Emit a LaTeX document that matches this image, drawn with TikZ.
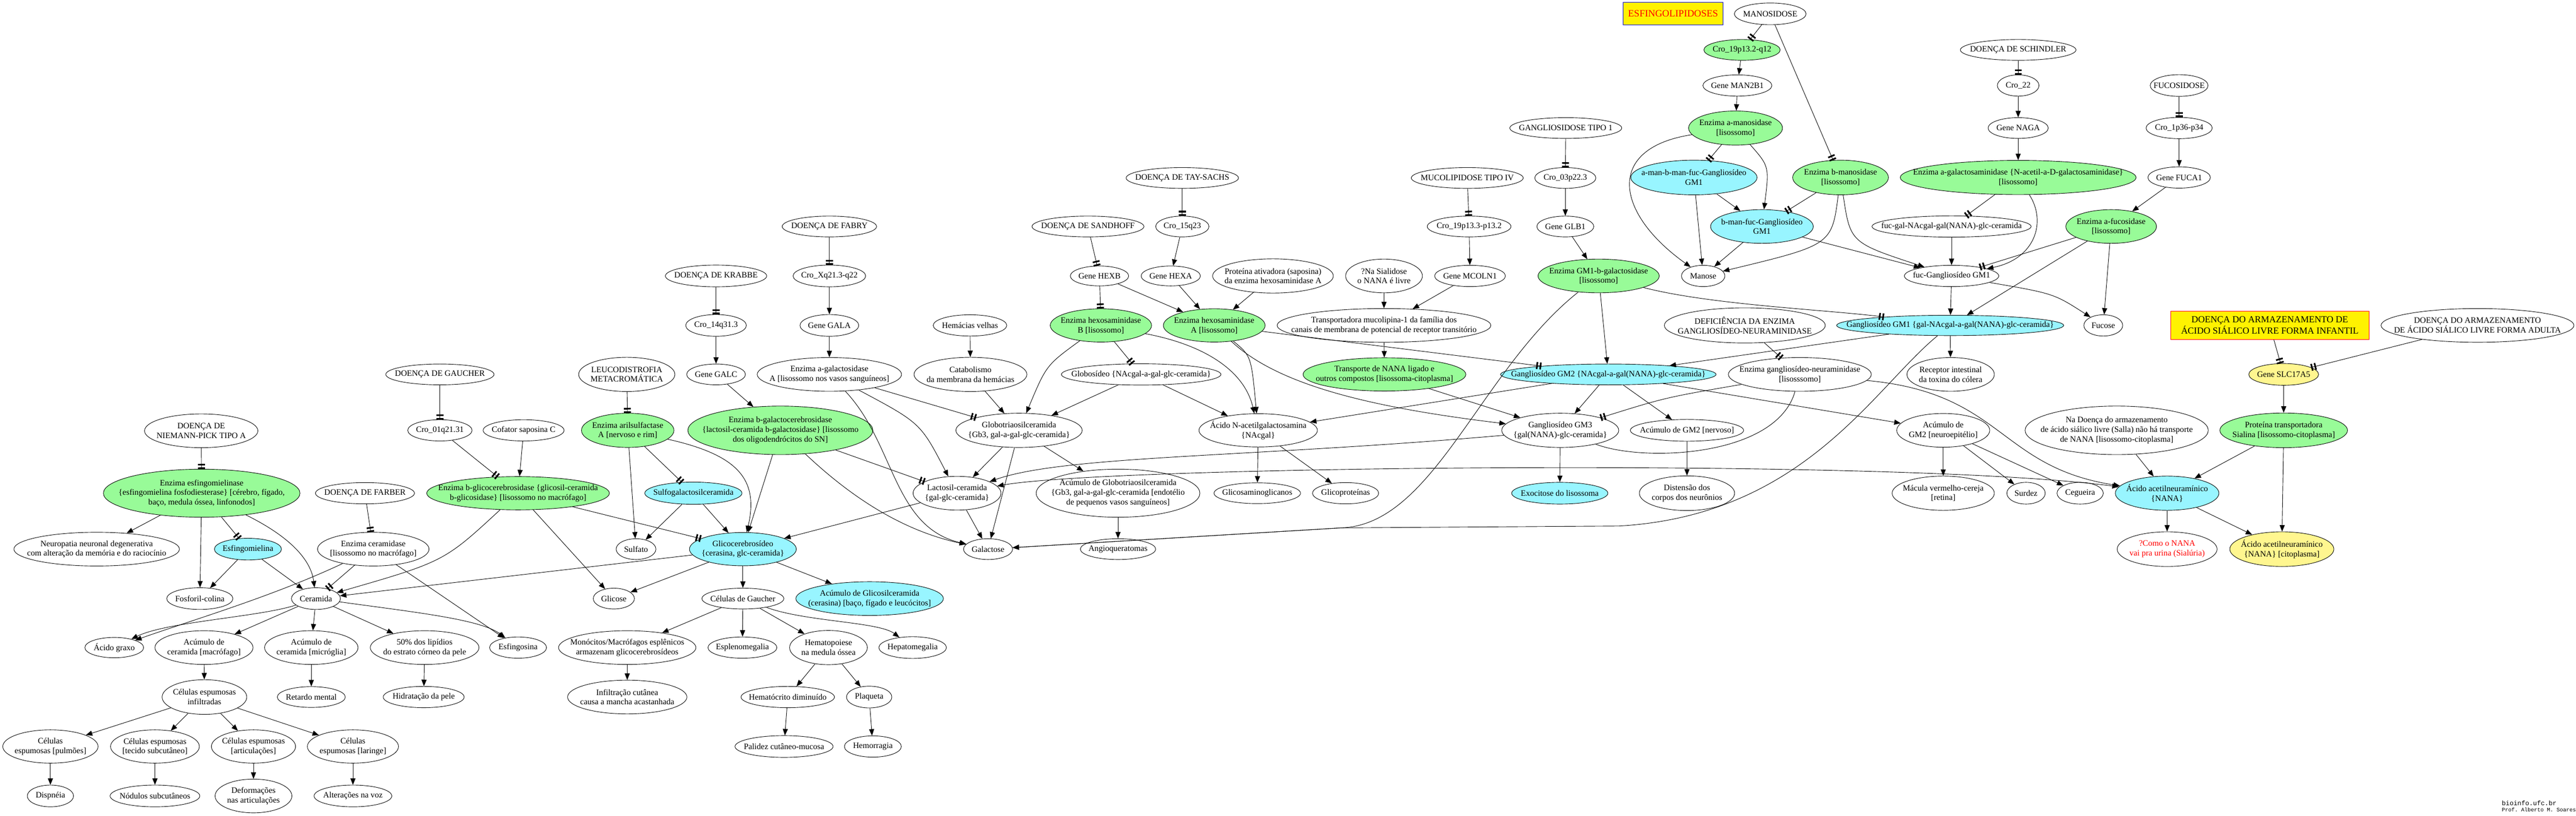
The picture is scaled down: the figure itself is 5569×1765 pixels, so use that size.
\documentclass[tikz,border=0pt]{standalone}
\usepackage{fontspec}
\setmainfont{Liberation Serif}
\setmonofont{Liberation Mono}
\usepackage{tikz}
\usetikzlibrary{arrows.meta,shapes.geometric}
\definecolor{verde}{HTML}{98FB98}
\definecolor{ciano}{HTML}{98F5FF}
\definecolor{amarelo}{HTML}{FFF68F}
\begin{document}
\begin{tikzpicture}[x=0.1mm,y=-0.1mm,
	elip/.style={ellipse,draw,line width=0.1mm,inner sep=0pt},
	enz/.style={elip,fill=verde},
	subst/.style={elip,fill=ciano},
	amar/.style={elip,fill=amarelo},
	caixa/.style={rectangle,draw,line width=0.1mm,fill=yellow,inner sep=0pt},
	tam/.style 2 args={minimum width=#1mm,minimum height=#2mm},
	rotulo/.style={font=\fontsize{5.1}{6}\selectfont,align=center,inner sep=0pt},
	txt/.style={label={[rotulo]center:#1}},
	seta/.style={-{Triangle[length=1.4mm,width=1.1mm]},line width=0.1mm},
	seta2/.style={{Triangle[length=1.4mm,width=1.1mm]}-{Triangle[length=1.4mm,width=1.1mm]},line width=0.1mm},
	inib/.style={-{Rectangle[length=0.35mm,width=1.5mm,sep=0.4mm]Rectangle[length=0.35mm,width=1.5mm]},line width=0.1mm},
	linha/.style={line width=0.1mm}]
		\useasboundingbox[fill=white] (0,0) rectangle (5569,1765);
		\node[elip,tam={24.5}{7.3},txt={DOENÇA DE\\NIEMANN-PICK TIPO A}] (npa) at (435,932) {};
		\node[enz,tam={42.5}{10.4},txt={Enzima esfingomielinase\\\{esfingomielina fosfodiesterase\} [cérebro, fígado,\\baço, medula óssea, linfonodos]}] (esfm) at (436,1067) {};
		\node[elip,tam={35.8}{7.3},txt={Neuropatia neuronal degenerativa\\com alteração da memória e do raciocínio}] (neuro) at (209,1188) {};
		\node[subst,tam={14.5}{4.7},txt={Esfingomielina}] (esfmiel) at (536,1188) {};
		\node[elip,tam={14.3}{4.7},txt={Fosforil-colina}] (fosforil) at (432,1295) {};
		\node[elip,tam={10.6}{4.7},txt={Ceramida}] (ceramida) at (683,1295) {};
		\node[elip,tam={21.4}{4.6},txt={DOENÇA DE FARBER}] (farber) at (789,1067) {};
		\node[elip,tam={24.1}{7.3},txt={Enzima ceramidase\\{}[lisossomo no macrófago]}] (ceramidase) at (807,1188) {};
		\node[elip,tam={12.7}{4.4},txt={Ácido graxo}] (acgraxo) at (247,1401) {};
		\node[elip,tam={21.2}{7.3},txt={Acúmulo de\\ceramida [macrófago]}] (acmacro) at (441,1401) {};
		\node[elip,tam={20.2}{7.3},txt={Acúmulo de\\ceramida [micróglia]}] (acmicro) at (673,1401) {};
		\node[elip,tam={23.5}{7.3},txt={50\% dos lipídios\\do estrato córneo da pele}] (lipidios) at (918,1401) {};
		\node[elip,tam={12.3}{4.6},txt={Esfingosina}] (esfingosina) at (1120,1401) {};
		\node[elip,tam={18.3}{7.5},txt={Células espumosas\\infiltradas}] (celesp) at (442,1508) {};
		\node[elip,tam={14.7}{4.5},txt={Retardo mental}] (retardo) at (673,1508) {};
		\node[elip,tam={17.5}{4.6},txt={Hidratação da pele}] (hidrat) at (916,1508) {};
		\node[elip,tam={20.6}{7.2},txt={Células\\espumosas [pulmões]}] (celpulm) at (109,1615) {};
		\node[elip,tam={19.2}{7.2},txt={Células espumosas\\{}[tecido subcutâneo]}] (celtec) at (335,1615) {};
		\node[elip,tam={18.2}{7.2},txt={Células espumosas\\{}[articulações]}] (celart) at (548,1615) {};
		\node[elip,tam={19.7}{7.2},txt={Células\\espumosas [laringe]}] (cellar) at (763,1615) {};
		\node[elip,tam={10.0}{4.7},txt={Dispnéia}] (dispneia) at (109,1722) {};
		\node[elip,tam={19.4}{4.7},txt={Nódulos subcutâneos}] (nodulos) at (335,1722) {};
		\node[elip,tam={16.6}{7.3},txt={Deformações\\nas articulações}] (deform) at (548,1722) {};
		\node[elip,tam={16.8}{4.7},txt={Alterações na voz}] (altvoz) at (763,1722) {};
		\node[elip,tam={23.4}{4.5},txt={DOENÇA DE GAUCHER}] (gaucher) at (951,810) {};
		\node[elip,tam={13.9}{4.6},txt={Cro\_01q21.31}] (cro01) at (951,931) {};
		\node[elip,tam={17.5}{4.6},txt={Cofator saposina C}] (cofator) at (1132,931) {};
		\node[enz,tam={39.5}{7.2},txt={Enzima b-glicocerebrosidase \{glicosil-ceramida\\b-glicosidase\} [lisossomo no macrófago]}] (bglic) at (1120,1067) {};
		\node[elip,tam={20.8}{7.4},txt={LEUCODISTROFIA\\METACROMÁTICA}] (leuco) at (1355,810) {};
		\node[enz,tam={20.0}{7.4},txt={Enzima arilsulfactase\\A [nervoso e rim]}] (arilsulf) at (1357,931) {};
		\node[subst,tam={21.0}{4.8},txt={Sulfogalactosilceramida}] (sulfogal) at (1499,1067) {};
		\node[elip,tam={21.9}{4.7},txt={DOENÇA DE KRABBE}] (krabbe) at (1548,597) {};
		\node[elip,tam={13.1}{4.7},txt={Cro\_14q31.3}] (cro14) at (1548,704) {};
		\node[elip,tam={12.7}{4.5},txt={Gene GALC}] (galc) at (1548,810) {};
		\node[enz,tam={40.0}{10.5},txt={Enzima b-galactocerebrosidase\\\{lactosil-ceramida b-galactosidase\} [lisossomo\\dos oligodendrócitos do SN]}] (bgalc) at (1687,931) {};
		\node[elip,tam={20.4}{4.5},txt={DOENÇA DE FABRY}] (fabry) at (1793,490) {};
		\node[elip,tam={15.7}{4.7},txt={Cro\_Xq21.3-q22}] (croX) at (1793,597) {};
		\node[elip,tam={12.7}{4.7},txt={Gene GALA}] (gala) at (1793,704) {};
		\node[elip,tam={31.2}{7.3},txt={Enzima a-galactosidase\\A [lisossomo nos vasos sanguíneos]}] (agalact) at (1793,810) {};
		\node[elip,tam={8.6}{4.5},txt={Sulfato}] (sulfato) at (1375,1188) {};
		\node[subst,tam={23.1}{7.2},txt={Glicocerebrosídeo\\\{cerasina, glc-ceramida\}}] (glicocer) at (1606,1188) {};
		\node[elip,tam={8.9}{4.5},txt={Glicose}] (glicose) at (1327,1295) {};
		\node[elip,tam={17.7}{4.5},txt={Células de Gaucher}] (celgau) at (1606,1295) {};
		\node[subst,tam={31.9}{7.3},txt={Acúmulo de Glicosilceramida\\(cerasina) [baço, fígado e leucócitos]}] (acglicosil) at (1880,1295) {};
		\node[elip,tam={29.7}{7.3},txt={Monócitos/Macrófagos esplênicos\\armazenam glicocerebrosídeos}] (monocitos) at (1356,1401) {};
		\node[elip,tam={14.9}{4.6},txt={Esplenomegalia}] (espleno) at (1605,1401) {};
		\node[elip,tam={16.8}{7.4},txt={Hematopoiese\\na medula óssea}] (hemato) at (1791,1401) {};
		\node[elip,tam={14.6}{4.7},txt={Hepatomegalia}] (hepato) at (1973,1401) {};
		\node[elip,tam={25.8}{7.3},txt={Infiltração cutânea\\causa a mancha acastanhada}] (infiltr) at (1356,1508) {};
		\node[elip,tam={20.2}{4.6},txt={Hematócrito diminuído}] (hematocr) at (1703,1508) {};
		\node[elip,tam={9.8}{4.7},txt={Plaqueta}] (plaqueta) at (1879,1508) {};
		\node[elip,tam={21.2}{4.7},txt={Palidez cutâneo-mucosa}] (palidez) at (1695,1615) {};
		\node[elip,tam={12.3}{4.6},txt={Hemorragia}] (hemorragia) at (1887,1615) {};
		\node[elip,tam={24.3}{4.5},txt={DOENÇA DE TAY-SACHS}] (taysachs) at (2556,385) {};
		\node[elip,tam={11.5}{4.5},txt={Cro\_15q23}] (cro15) at (2556,490) {};
		\node[elip,tam={24.2}{4.5},txt={DOENÇA DE SANDHOFF}] (sandhoff) at (2352,490) {};
		\node[elip,tam={12.6}{4.3},txt={Gene HEXB}] (hexb) at (2377,597) {};
		\node[elip,tam={12.8}{4.3},txt={Gene HEXA}] (hexa) at (2531,597) {};
		\node[elip,tam={26.1}{7.4},txt={Proteína ativadora (saposina)\\da enzima hexosaminidase A}] (proteina) at (2752,597) {};
		\node[enz,tam={21.9}{7.2},txt={Enzima hexosaminidase\\B [lisossomo]}] (hexBe) at (2380,704) {};
		\node[enz,tam={22.0}{7.2},txt={Enzima hexosaminidase\\A [lisossomo]}] (hexAe) at (2625,704) {};
		\node[elip,tam={15.9}{4.6},txt={Hemácias velhas}] (hemvelhas) at (2097,704) {};
		\node[elip,tam={24.4}{7.4},txt={Catabolismo\\da membrana da hemácias}] (catab) at (2098,810) {};
		\node[elip,tam={34.5}{4.6},txt={Globosídeo \{NAcgal-a-gal-glc-ceramida\}}] (globosideo) at (2467,810) {};
		\node[elip,tam={27.3}{7.4},txt={Globotriaosilceramida\\\{Gb3, gal-a-gal-glc-ceramida\}}] (globotri) at (2203,931) {};
		\node[elip,tam={25.6}{7.2},txt={Ácido N-acetilgalactosamina\\\{NAcgal\}}] (acnacgal) at (2720,931) {};
		\node[elip,tam={46.2}{7.3},txt={Transportadora mucolipina-1 da família dos\\canais de membrana de potencial de receptor transitório}] (transp) at (2992,704) {};
		\node[elip,tam={19.0}{7.3},txt={Lactosil-ceramida\\\{gal-glc-ceramida\}}] (lactosil) at (2069,1067) {};
		\node[elip,tam={35.4}{10.4},txt={Acúmulo de Globotriaosilceramida\\\{Gb3, gal-a-gal-glc-ceramida [endotélio\\de pequenos vasos sanguíneos]}] (acglobo) at (2417,1067) {};
		\node[elip,tam={18.7}{4.5},txt={Glicosaminoglicanos}] (glicosamino) at (2718,1067) {};
		\node[elip,tam={10.6}{4.5},txt={Galactose}] (galactose) at (2136,1188) {};
		\node[elip,tam={16.3}{4.5},txt={Angioqueratomas}] (angio) at (2417,1188) {};
		\node[elip,tam={14.3}{4.6},txt={Glicoproteínas}] (glicoprot) at (2909,1067) {};
		\node[elip,tam={24.2}{4.5},txt={GANGLIOSIDOSE TIPO 1}] (ganglio1) at (3385,277) {};
		\node[elip,tam={24.2}{4.5},txt={MUCOLIPIDOSE TIPO IV}] (mucolip) at (3172,385) {};
		\node[elip,tam={13.2}{4.5},txt={Cro\_03p22.3}] (cro03) at (3384,385) {};
		\node[elip,tam={18.1}{4.5},txt={Cro\_19p13.3-p13.2}] (cro19) at (3176,490) {};
		\node[elip,tam={12.3}{4.5},txt={Gene GLB1}] (glb1) at (3384,490) {};
		\node[elip,tam={16.6}{7.3},txt={?Na Sialidose\\o NANA é livre}] (sialidose) at (2992,597) {};
		\node[elip,tam={15.3}{4.6},txt={Gene MCOLN1}] (mcoln1) at (3178,597) {};
		\node[enz,tam={26.2}{7.3},txt={Enzima GM1-b-galactosidase\\{}[lisossomo]}] (gm1bgal) at (3456,597) {};
		\node[enz,tam={35.2}{7.2},txt={Transporte de NANA ligado e\\outros compostos [lisossoma-citoplasma]}] (transporte) at (2993,810) {};
		\node[subst,tam={46.6}{4.5},txt={Gangliosídeo GM2 \{NAcgal-a-gal(NANA)-glc-ceramida\}}] (gm2) at (3477,810) {};
		\node[elip,tam={9.4}{4.6},txt={Manose}] (manose) at (3682,597) {};
		\node[elip,tam={34.8}{7.6},txt={DEFICIÊNCIA DA ENZIMA\\GANGLIOSÍDEO-NEURAMINIDASE}] (deficiencia) at (3772,704) {};
		\node[elip,tam={25.3}{7.4},txt={Gangliosídeo GM3\\\{gal(NANA)-glc-ceramida\}}] (gm3) at (3373,931) {};
		\node[elip,tam={24.5}{4.7},txt={Acúmulo de GM2 [nervoso]}] (acgmnerv) at (3647,931) {};
		\node[subst,tam={20.8}{4.7},txt={Exocitose do lisossoma}] (exocitose) at (3372,1067) {};
		\node[elip,tam={20.6}{7.5},txt={Distensão dos\\corpos dos neurônios}] (distensao) at (3647,1067) {};
		\node[caixa,draw=blue,tam={21.6}{4.9},label={[rotulo,text=red,font=\fontsize{6}{7}\selectfont]center:ESFINGOLIPIDOSES}] (titulo) at (3617,29) {};
		\node[elip,tam={15.5}{4.7},txt={MANOSIDOSE}] (manosidose) at (3827,30) {};
		\node[enz,tam={16.5}{4.5},txt={Cro\_19p13.2-q12}] (cro19p) at (3766,108) {};
		\node[elip,tam={14.9}{4.6},txt={Gene MAN2B1}] (man2b1) at (3756,185) {};
		\node[enz,tam={20.3}{7.4},txt={Enzima a-manosidase\\{}[lisossomo]}] (amanos) at (3752,277) {};
		\node[subst,tam={27.3}{7.5},txt={a-man-b-man-fuc-Gangliosídeo\\GM1}] (amanbman) at (3662,384) {};
		\node[enz,tam={20.7}{7.5},txt={Enzima b-manosidase\\{}[lisossomo]}] (bmanos) at (3979,384) {};
		\node[subst,tam={22.2}{7.3},txt={b-man-fuc-Gangliosídeo\\GM1}] (bmanfuc) at (3809,490) {};
		\node[elip,tam={25.0}{4.5},txt={DOENÇA DE SCHINDLER}] (schindler) at (4363,108) {};
		\node[elip,tam={9.0}{4.6},txt={Cro\_22}] (cro22) at (4363,185) {};
		\node[elip,tam={13.0}{4.5},txt={Gene NAGA}] (naga) at (4363,277) {};
		\node[enz,tam={51.0}{7.4},txt={Enzima a-galactosaminidase \{N-acetil-a-D-galactosaminidase\}\\{}[lisossomo]}] (agalsam) at (4363,384) {};
		\node[elip,tam={34.4}{4.6},txt={fuc-gal-NAcgal-gal(NANA)-glc-ceramida}] (fucgal) at (4219,490) {};
		\node[enz,tam={19.6}{7.3},txt={Enzima a-fucosidase\\{}[lisossomo]}] (afucos) at (4564,490) {};
		\node[elip,tam={20.4}{4.6},txt={fuc-Gangliosídeo GM1}] (fucgm1) at (4219,597) {};
		\node[subst,tam={49.1}{4.4},txt={Gangliosídeo GM1 \{gal-NAcgal-a-gal(NANA)-glc-ceramida\}}] (gm1) at (4216,704) {};
		\node[elip,tam={8.4}{4.6},txt={Fucose}] (fucose) at (4547,704) {};
		\node[elip,tam={12.5}{4.7},txt={FUCOSIDOSE}] (fucosidose) at (4711,185) {};
		\node[elip,tam={14.3}{4.6},txt={Cro\_1p36-p34}] (cro1p) at (4711,277) {};
		\node[elip,tam={13.5}{4.6},txt={Gene FUCA1}] (fuca1) at (4711,384) {};
		\node[elip,tam={30.9}{7.3},txt={Enzima gangliosídeo-neuraminidase\\{}[lisosssomo]}] (gangneur) at (3891,810) {};
		\node[elip,tam={18.9}{7.3},txt={Receptor intestinal\\da toxina do cólera}] (receptor) at (4217,810) {};
		\node[elip,tam={20.1}{7.3},txt={Acúmulo de\\GM2 [neuroepitélio]}] (acgmneuro) at (4201,931) {};
		\node[elip,tam={22.1}{7.4},txt={Mácula vermelho-cereja\\{}[retina]}] (macula) at (4201,1067) {};
		\node[elip,tam={8.3}{4.7},txt={Surdez}] (surdez) at (4380,1067) {};
		\node[elip,tam={10.0}{4.7},txt={Cegueira}] (cegueira) at (4497,1067) {};
		\node[elip,tam={39.6}{10.5},txt={Na Doença do armazenamento\\de ácido siálico livre (Salla) não há transporte\\de NANA [lisossomo-citoplasma]}] (nadoenca) at (4576,931) {};
		\node[subst,tam={22.4}{7.4},txt={Ácido acetilneuramínico\\\{NANA\}}] (acnana) at (4685,1067) {};
		\node[enz,tam={27.6}{7.5},txt={Proteína transportadora\\Sialina [lisossomo-citoplasma]}] (sialina) at (4937,931) {};
		\node[amar,tam={15.1}{4.7},txt={Gene SLC17A5}] (slc) at (4937,810) {};
		\node[elip,tam={21.6}{7.5},label={[rotulo,text=red]center:?Como o NANA\\vai pra urina (Sialúria)}] (comonana) at (4685,1188) {};
		\node[amar,tam={22.5}{7.5},txt={Ácido acetilneuramínico\\\{NANA\} [citoplasma]}] (acnanacito) at (4933,1188) {};
		\node[caixa,draw=red,tam={42.9}{6.1},label={[rotulo,font=\fontsize{5.7}{7}\selectfont]center:DOENÇA DO ARMAZENAMENTO DE\\ÁCIDO SIÁLICO LIVRE FORMA INFANTIL}] (dasiinf) at (4907,704) {};
		\node[elip,tam={41.7}{7.3},txt={DOENÇA DO ARMAZENAMENTO\\DE ÁCIDO SIÁLICO LIVRE FORMA ADULTA}] (dasiad) at (5356,704) {};
		\node[anchor=west,inner sep=0pt,font=\ttfamily\fontsize{4}{4}\selectfont] (site) at (5408,1738) {bioinfo.ufc.br};
		\node[anchor=west,inner sep=0pt,font=\ttfamily\fontsize{3.3}{3.3}\selectfont] (prof) at (5408,1752) {Prof. Alberto M. Soares};
		\draw[inib] (npa) -- (esfm);
		\draw[seta] (esfm) -- (neuro);
		\draw[seta] (esfm) -- (fosforil);
		\draw[inib] (esfm) -- (esfmiel);
		\draw[seta] (esfm) .. controls (625,1160) and (672,1210) .. (ceramida);
		\draw[seta] (esfmiel) -- (fosforil);
		\draw[seta] (esfmiel) -- (ceramida);
		\draw[inib] (farber) -- (ceramidase);
		\draw[inib] (ceramidase) -- (ceramida);
		\draw[seta] (ceramidase) .. controls (590,1290) and (420,1340) .. (acgraxo);
		\draw[seta] (ceramidase) -- (esfingosina);
		\draw[seta] (bglic) .. controls (960,1215) .. (ceramida);
		\draw[seta] (glicocer) -- (ceramida);
		\draw[seta] (ceramida) .. controls (560,1335) and (360,1345) .. (acgraxo);
		\draw[seta] (ceramida) -- (acmacro);
		\draw[seta] (ceramida) -- (acmicro);
		\draw[seta] (ceramida) -- (lipidios);
		\draw[seta] (ceramida) .. controls (900,1325) and (1040,1340) .. (esfingosina);
		\draw[seta] (acmacro) -- (celesp);
		\draw[seta] (celesp) -- (celpulm);
		\draw[seta] (celesp) -- (celtec);
		\draw[seta] (celesp) -- (celart);
		\draw[seta] (celesp) -- (cellar);
		\draw[seta] (celpulm) -- (dispneia);
		\draw[seta] (celtec) -- (nodulos);
		\draw[seta] (celart) -- (deform);
		\draw[seta] (cellar) -- (altvoz);
		\draw[seta] (acmicro) -- (retardo);
		\draw[seta] (lipidios) -- (hidrat);
		\draw[inib] (gaucher) -- (cro01);
		\draw[inib] (cro01) -- (bglic);
		\draw[seta] (cofator) -- (bglic);
		\draw[seta] (bglic) -- (glicose);
		\draw[inib] (bglic) -- (glicocer);
		\draw[seta] (glicocer) -- (glicose);
		\draw[seta] (glicocer) -- (celgau);
		\draw[seta] (glicocer) -- (acglicosil);
		\draw[seta] (celgau) -- (monocitos);
		\draw[seta] (celgau) -- (espleno);
		\draw[seta] (celgau) -- (hemato);
		\draw[seta] (celgau) .. controls (1740,1345) and (1900,1345) .. (hepato);
		\draw[seta] (monocitos) -- (infiltr);
		\draw[seta] (hemato) -- (hematocr);
		\draw[seta] (hemato) -- (plaqueta);
		\draw[seta] (hematocr) -- (palidez);
		\draw[seta] (plaqueta) -- (hemorragia);
		\draw[inib] (leuco) -- (arilsulf);
		\draw[inib] (arilsulf) -- (sulfogal);
		\draw[seta] (arilsulf) -- (sulfato);
		\draw[seta] (arilsulf) .. controls (1600,985) and (1640,1040) .. (glicocer);
		\draw[seta] (sulfogal) -- (sulfato);
		\draw[seta] (sulfogal) -- (glicocer);
		\draw[inib] (krabbe) -- (cro14);
		\draw[seta] (cro14) -- (galc);
		\draw[seta] (galc) -- (bgalc);
		\draw[seta] (bgalc) -- (glicocer);
		\draw[inib] (bgalc) -- (lactosil);
		\draw[seta] (bgalc) .. controls (1850,1085) and (1960,1150) .. (galactose);
		\draw[inib] (fabry) -- (croX);
		\draw[seta] (croX) -- (gala);
		\draw[seta] (gala) -- (agalact);
		\draw[inib] (agalact) -- (globotri);
		\draw[seta] (agalact) .. controls (1990,915) .. (lactosil);
		\draw[seta] (agalact) .. controls (1935,960) and (1930,1140) .. (galactose);
		\draw[seta] (hemvelhas) -- (catab);
		\draw[seta] (catab) -- (globotri);
		\draw[seta] (globotri) -- (lactosil);
		\draw[seta] (globotri) -- (galactose);
		\draw[seta] (globotri) -- (acglobo);
		\draw[seta] (acglobo) -- (angio);
		\draw[seta] (lactosil) -- (glicocer);
		\draw[seta] (lactosil) -- (galactose);
		\draw[inib] (taysachs) -- (cro15);
		\draw[seta] (cro15) -- (hexa);
		\draw[seta] (hexa) -- (hexAe);
		\draw[seta] (proteina) -- (hexAe);
		\draw[inib] (sandhoff) -- (hexb);
		\draw[inib] (hexb) -- (hexBe);
		\draw[seta] (hexb) -- (hexAe);
		\draw[seta] (hexBe) .. controls (2262,790) .. (globotri);
		\draw[inib] (hexBe) -- (globosideo);
		\draw[seta] (hexBe) .. controls (2600,745) and (2690,800) .. (acnacgal);
		\draw[seta] (hexAe) .. controls (2705,770) .. (acnacgal);
		\draw[inib] (hexAe) -- (gm2);
		\draw[seta] (hexAe) .. controls (2760,830) and (2950,880) .. (gm3);
		\draw[seta] (globosideo) -- (globotri);
		\draw[seta] (globosideo) -- (acnacgal);
		\draw[seta] (acnacgal) -- (glicosamino);
		\draw[seta] (acnacgal) -- (glicoprot);
		\draw[inib] (mucolip) -- (cro19);
		\draw[seta] (cro19) -- (mcoln1);
		\draw[seta] (mcoln1) -- (transp);
		\draw[seta] (sialidose) -- (transp);
		\draw[seta] (transp) -- (transporte);
		\draw[seta] (transporte) -- (gm3);
		\draw[inib] (ganglio1) -- (cro03);
		\draw[seta] (cro03) -- (glb1);
		\draw[seta] (glb1) -- (gm1bgal);
		\draw[seta] (gm1bgal) -- (gm2);
		\draw[inib] (gm1bgal) .. controls (3700,660) and (3950,670) .. (gm1);
		\draw[seta] (gm1bgal) .. controls (3200,800) and (3100,1135) .. (2900,1142) -- (galactose);
		\draw[seta] (gm1) .. controls (4050,840) and (3900,1115) .. (3500,1138) -- (2900,1142) -- (galactose);
		\draw[seta] (gm1) -- (gm2);
		\draw[seta] (gm1) -- (receptor);
		\draw[seta] (gm2) -- (gm3);
		\draw[seta] (gm2) -- (acgmnerv);
		\draw[seta] (gm2) -- (acgmneuro);
		\draw[seta] (gm2) -- (acnacgal);
		\draw[seta] (gm3) -- (exocitose);
		\draw[seta] (gm3) .. controls (2700,990) and (2300,985) .. (lactosil);
		\draw[seta] (acgmnerv) -- (distensao);
		\draw[inib] (deficiencia) -- (gangneur);
		\draw[inib] (gangneur) .. controls (3600,860) .. (gm3);
		\draw[linha] (gangneur) .. controls (3840,990) and (3550,1000) .. (gm3);
		\draw[seta] (gangneur) .. controls (4330,850) and (4320,1010) .. (acnana);
		\draw[seta2] (acnana) .. controls (4100,990) and (2400,1008) .. (lactosil);
		\draw[seta] (acgmneuro) -- (macula);
		\draw[seta] (acgmneuro) -- (surdez);
		\draw[seta] (acgmneuro) -- (cegueira);
		\draw[inib] (manosidose) -- (cro19p);
		\draw[inib] (manosidose) -- (bmanos);
		\draw[seta] (cro19p) -- (man2b1);
		\draw[seta] (man2b1) -- (amanos);
		\draw[inib] (amanos) -- (amanbman);
		\draw[seta] (amanos) .. controls (3825,360) .. (bmanfuc);
		\draw[seta] (amanos) .. controls (3470,320) and (3490,460) .. (manose);
		\draw[seta] (amanbman) -- (manose);
		\draw[seta] (amanbman) -- (bmanfuc);
		\draw[inib] (bmanos) -- (bmanfuc);
		\draw[seta] (bmanos) .. controls (3960,530) .. (manose);
		\draw[seta] (bmanos) .. controls (4000,525) .. (fucgm1);
		\draw[seta] (bmanfuc) -- (manose);
		\draw[seta] (bmanfuc) -- (fucgm1);
		\draw[inib] (schindler) -- (cro22);
		\draw[seta] (cro22) -- (naga);
		\draw[seta] (naga) -- (agalsam);
		\draw[inib] (agalsam) -- (fucgal);
		\draw[seta] (agalsam) .. controls (4425,480) and (4400,560) .. (fucgm1);
		\draw[seta] (fucgal) -- (fucgm1);
		\draw[inib] (fucosidose) -- (cro1p);
		\draw[seta] (cro1p) -- (fuca1);
		\draw[seta] (fuca1) -- (afucos);
		\draw[inib] (afucos) -- (fucgm1);
		\draw[seta] (afucos) -- (gm1);
		\draw[seta] (afucos) -- (fucose);
		\draw[seta] (fucgm1) -- (gm1);
		\draw[seta] (fucgm1) .. controls (4440,635) .. (fucose);
		\draw[inib] (dasiinf) -- (slc);
		\draw[inib] (dasiad) -- (slc);
		\draw[seta] (slc) -- (sialina);
		\draw[seta] (sialina) -- (acnana);
		\draw[seta] (sialina) -- (acnanacito);
		\draw[seta] (nadoenca) -- (acnana);
		\draw[seta] (acnana) -- (comonana);
		\draw[seta] (acnana) -- (acnanacito);
	\end{tikzpicture}
\end{document}
